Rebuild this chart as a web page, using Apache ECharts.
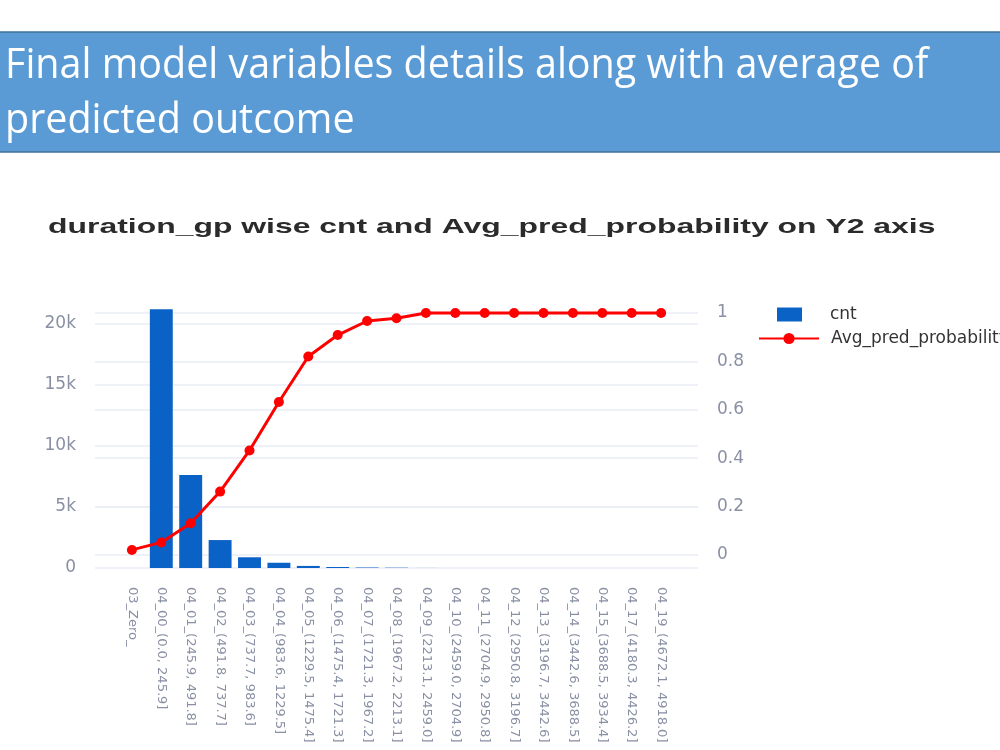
<!DOCTYPE html>
<html>
<head>
<meta charset="utf-8">
<script src="https://cdn.jsdelivr.net/npm/echarts@6/dist/echarts.min.js"></script>
<style>
  html, body { margin: 0; padding: 0; background: #fff; }
  #grafico { width: 1000px; height: 750px; }
</style>
</head>
<body>
<div id="grafico"></div>
<script>
// categorias y valores
const categorias = [
    "03_Zero_",
    "04_00_(0.0, 245.9]",
    "04_01_(245.9, 491.8]",
    "04_02_(491.8, 737.7]",
    "04_03_(737.7, 983.6]",
    "04_04_(983.6, 1229.5]",
    "04_05_(1229.5, 1475.4]",
    "04_06_(1475.4, 1721.3]",
    "04_07_(1721.3, 1967.2]",
    "04_08_(1967.2, 2213.1]",
    "04_09_(2213.1, 2459.0]",
    "04_10_(2459.0, 2704.9]",
    "04_11_(2704.9, 2950.8]",
    "04_12_(2950.8, 3196.7]",
    "04_13_(3196.7, 3442.6]",
    "04_14_(3442.6, 3688.5]",
    "04_15_(3688.5, 3934.4]",
    "04_17_(4180.3, 4426.2]",
    "04_19_(4672.1, 4918.0]"
];
const cnt = [0, 21200, 7620, 2290, 880, 430, 170, 80, 40, 25, 4, 2, 1, 1, 1, 1, 1, 1, 1];
const avgPred = [0.021, 0.052, 0.131, 0.262, 0.432, 0.632, 0.82, 0.909, 0.967, 0.978,
                 1, 1, 1, 1, 1, 1, 1, 1, 1];
const ticksCnt = [0, 5000, 10000, 15000, 20000];
const ticksProb = [0, 0.2, 0.4, 0.6, 0.8, 1];

// geometria (pixeles)
const plotIzq = 95, plotDer = 698;
const catIzq = 117.2, catDer = 675.8;
const yCero = 568, yTop = 290;
const yCnt20k = 324;
const yProb0 = 555, yProb1 = 313;

const colorTick = '#8990a3';
const colorGrid = '#e9edf4';
const fuente = 'DejaVu Sans';

// rango de un eje oculto para que v0 caiga en y0 y v1 en y1
function rango(v0, y0, v1, y1) {
    let porPx = (v1 - v0) / (y0 - y1);
    return [v0 - (yCero - y0) * porPx, v1 + (y1 - yTop) * porPx];
}
let rangoBar = rango(0, yCero, 20000, yCnt20k);
let rangoLinea = rango(0, yProb0, 1, yProb1);

let grafico = echarts.init(document.getElementById('grafico'));

let option = {
    backgroundColor: '#fff',
    animation: false,
    graphic: [
        {
            type: 'rect',
            shape: { x: -2, y: 32, width: 1004, height: 120 },
            style: { fill: '#5b9bd5', stroke: '#41719c', lineWidth: 1.5 }
        },
        {
            type: 'text',
            x: 5, y: 87,
            scaleX: 0.987, scaleY: 1.05,
            style: {
                text: 'Final model variables details along with average of',
                fill: '#fff',
                font: '40px "Open Sans", sans-serif',
                textVerticalAlign: 'bottom'
            }
        },
        {
            type: 'text',
            x: 5, y: 142,
            scaleX: 0.987, scaleY: 1.05,
            style: {
                text: 'predicted outcome',
                fill: '#fff',
                font: '40px "Open Sans", sans-serif',
                textVerticalAlign: 'bottom'
            }
        },
        {
            // titulo del grafico, ensanchado como en la imagen
            type: 'text',
            x: 48, y: 227,
            scaleX: 1.52,
            style: {
                text: 'duration_gp wise cnt and Avg_pred_probability on Y2 axis',
                fill: '#2b2b2b',
                font: 'bold 21px "Liberation Sans", Arial, sans-serif',
                textVerticalAlign: 'middle'
            }
        }
    ],
    legend: [
        {
            data: [{ name: 'cnt', icon: 'rect' }],
            left: 772, top: 301,
            itemWidth: 25, itemHeight: 14,
            textStyle: { fontFamily: fuente, fontSize: 17, color: '#333', padding: [0, 0, 0, 23] }
        },
        {
            data: ['Avg_pred_probability'],
            left: 753, top: 325,
            itemWidth: 60, itemHeight: 14,
            textStyle: { fontFamily: fuente, fontSize: 17, color: '#333', padding: [0, 0, 0, 7] }
        }
    ],
    grid: [
        { left: plotIzq, right: 1000 - plotDer, top: yCnt20k, bottom: 750 - yCero },
        { left: plotIzq, right: 1000 - plotDer, top: yProb1, bottom: 750 - yProb0 },
        { left: catIzq, right: 1000 - catDer, top: yTop, bottom: 750 - yCero }
    ],
    xAxis: [
        { type: 'value', gridIndex: 0, show: false, min: 0, max: 1 },
        { type: 'value', gridIndex: 1, show: false, min: 0, max: 1 },
        {
            type: 'category',
            gridIndex: 2,
            data: categorias,
            axisLine: { show: false },
            axisTick: { show: false },
            axisLabel: {
                interval: 0,
                rotate: -90,
                margin: 19,
                fontFamily: fuente,
                fontSize: 13,
                color: colorTick
            }
        }
    ],
    yAxis: [
        {
            type: 'value', gridIndex: 0, position: 'left',
            min: ticksCnt[0], max: ticksCnt[ticksCnt.length - 1], interval: 5000,
            axisLine: { show: false },
            axisTick: { show: false },
            axisLabel: {
                margin: 19,
                fontFamily: fuente, fontSize: 17, color: colorTick,
                formatter: v => v === 0 ? '0' : (v / 1000) + 'k'
            },
            splitLine: { lineStyle: { color: colorGrid, width: 1.5 } }
        },
        {
            type: 'value', gridIndex: 1, position: 'right',
            min: ticksProb[0], max: ticksProb[ticksProb.length - 1], interval: 0.2,
            axisLine: { show: false },
            axisTick: { show: false },
            axisLabel: {
                margin: 19,
                fontFamily: fuente, fontSize: 17, color: colorTick,
                formatter: v => String(Math.round(v * 10) / 10)
            },
            splitLine: { lineStyle: { color: colorGrid, width: 1.5 } }
        },
        { type: 'value', gridIndex: 2, show: false, min: rangoBar[0], max: rangoBar[1], splitLine: { show: false } },
        { type: 'value', gridIndex: 2, show: false, min: rangoLinea[0], max: rangoLinea[1], splitLine: { show: false } }
    ],
    series: [
        {
            name: 'cnt',
            type: 'bar',
            xAxisIndex: 2,
            yAxisIndex: 2,
            data: cnt,
            barCategoryGap: '22%',
            itemStyle: { color: '#0b62c6' }
        },
        {
            name: 'Avg_pred_probability',
            type: 'line',
            xAxisIndex: 2,
            yAxisIndex: 3,
            data: avgPred,
            symbol: 'circle',
            symbolSize: 10,
            lineStyle: { color: '#ff0000', width: 3 },
            itemStyle: { color: '#ff0000' }
        }
    ]
};

grafico.setOption(option);
</script>
</body>
</html>
